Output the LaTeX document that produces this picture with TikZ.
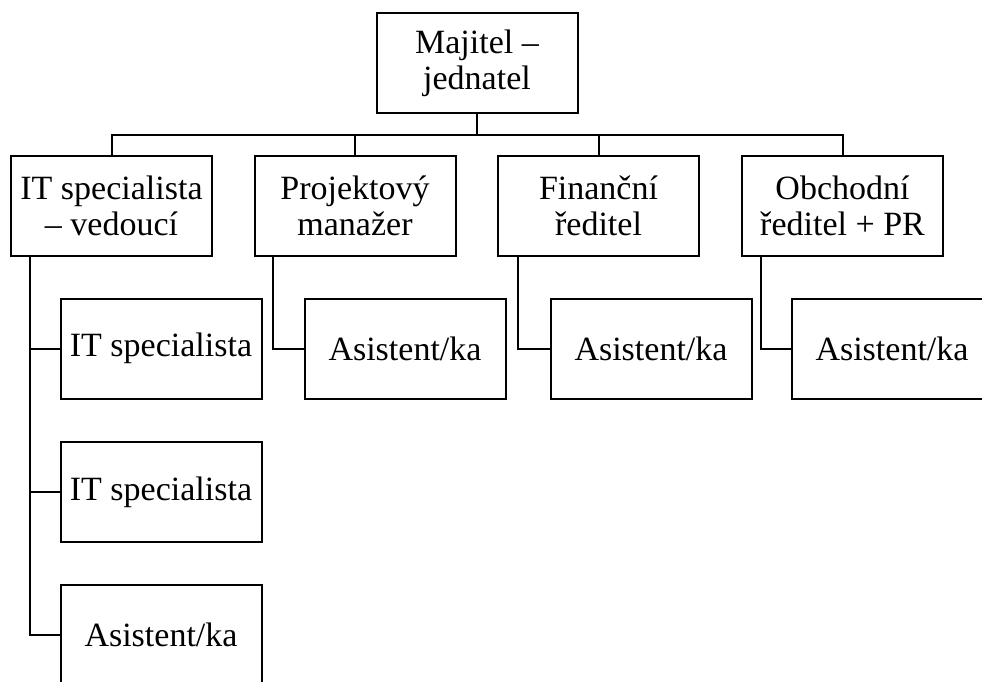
\documentclass[tikz,border=0pt]{standalone}
\usepackage{fontspec}
\setmainfont{Liberation Serif}
\begin{document}
\begin{tikzpicture}[x=1pt,y=-1pt,
  box/.style={draw=black,line width=2pt,minimum width=201pt,minimum height=100pt,
    inner sep=0pt,align=center,font=\fontsize{34}{36}\selectfont},
  link/.style={draw=black,line width=2pt}]
\useasboundingbox (0,0) rectangle (982,682);
\clip (0,0) rectangle (982,682);
\node[box] (top) at (477,63) {Majitel –\\jednatel};
\node[box] (b1) at (111.5,205.5) {IT specialista\\– vedoucí};
\node[box] (b2) at (355,205.5) {Projektový\\manažer};
\node[box] (b3) at (598.5,205.5) {Finanční\\ředitel};
\node[box] (b4) at (842.5,205.5) {Obchodní\\ředitel + PR};
\node[box] (c11) at (161,348.5) {IT specialista};
\node[box] (c12) at (161,492) {IT specialista};
\node[box] (c13) at (161,634.5) {Asistent/ka};
\node[box] (c2) at (405,348.5) {Asistent/ka};
\node[box] (c3) at (651,348.5) {Asistent/ka};
\node[box] (c4) at (892,348.5) {Asistent/ka};
\coordinate (bus) at (0,135);
\foreach \b in {b1,b2,b3,b4}
  \draw[link] (top.south) -- (top.south |- bus) -| (\b.north);
\coordinate (v1) at ([xshift=20pt]b1.south west);
\coordinate (v2) at ([xshift=19pt]b2.south west);
\coordinate (v3) at ([xshift=21pt]b3.south west);
\coordinate (v4) at ([xshift=20pt]b4.south west);
\draw[link] (v1) |- (c11.west);
\draw[link] (v1) |- (c12.west);
\draw[link] (v1) |- (c13.west);
\draw[link] (v2) |- (c2.west);
\draw[link] (v3) |- (c3.west);
\draw[link] (v4) |- (c4.west);
\end{tikzpicture}
\end{document}
